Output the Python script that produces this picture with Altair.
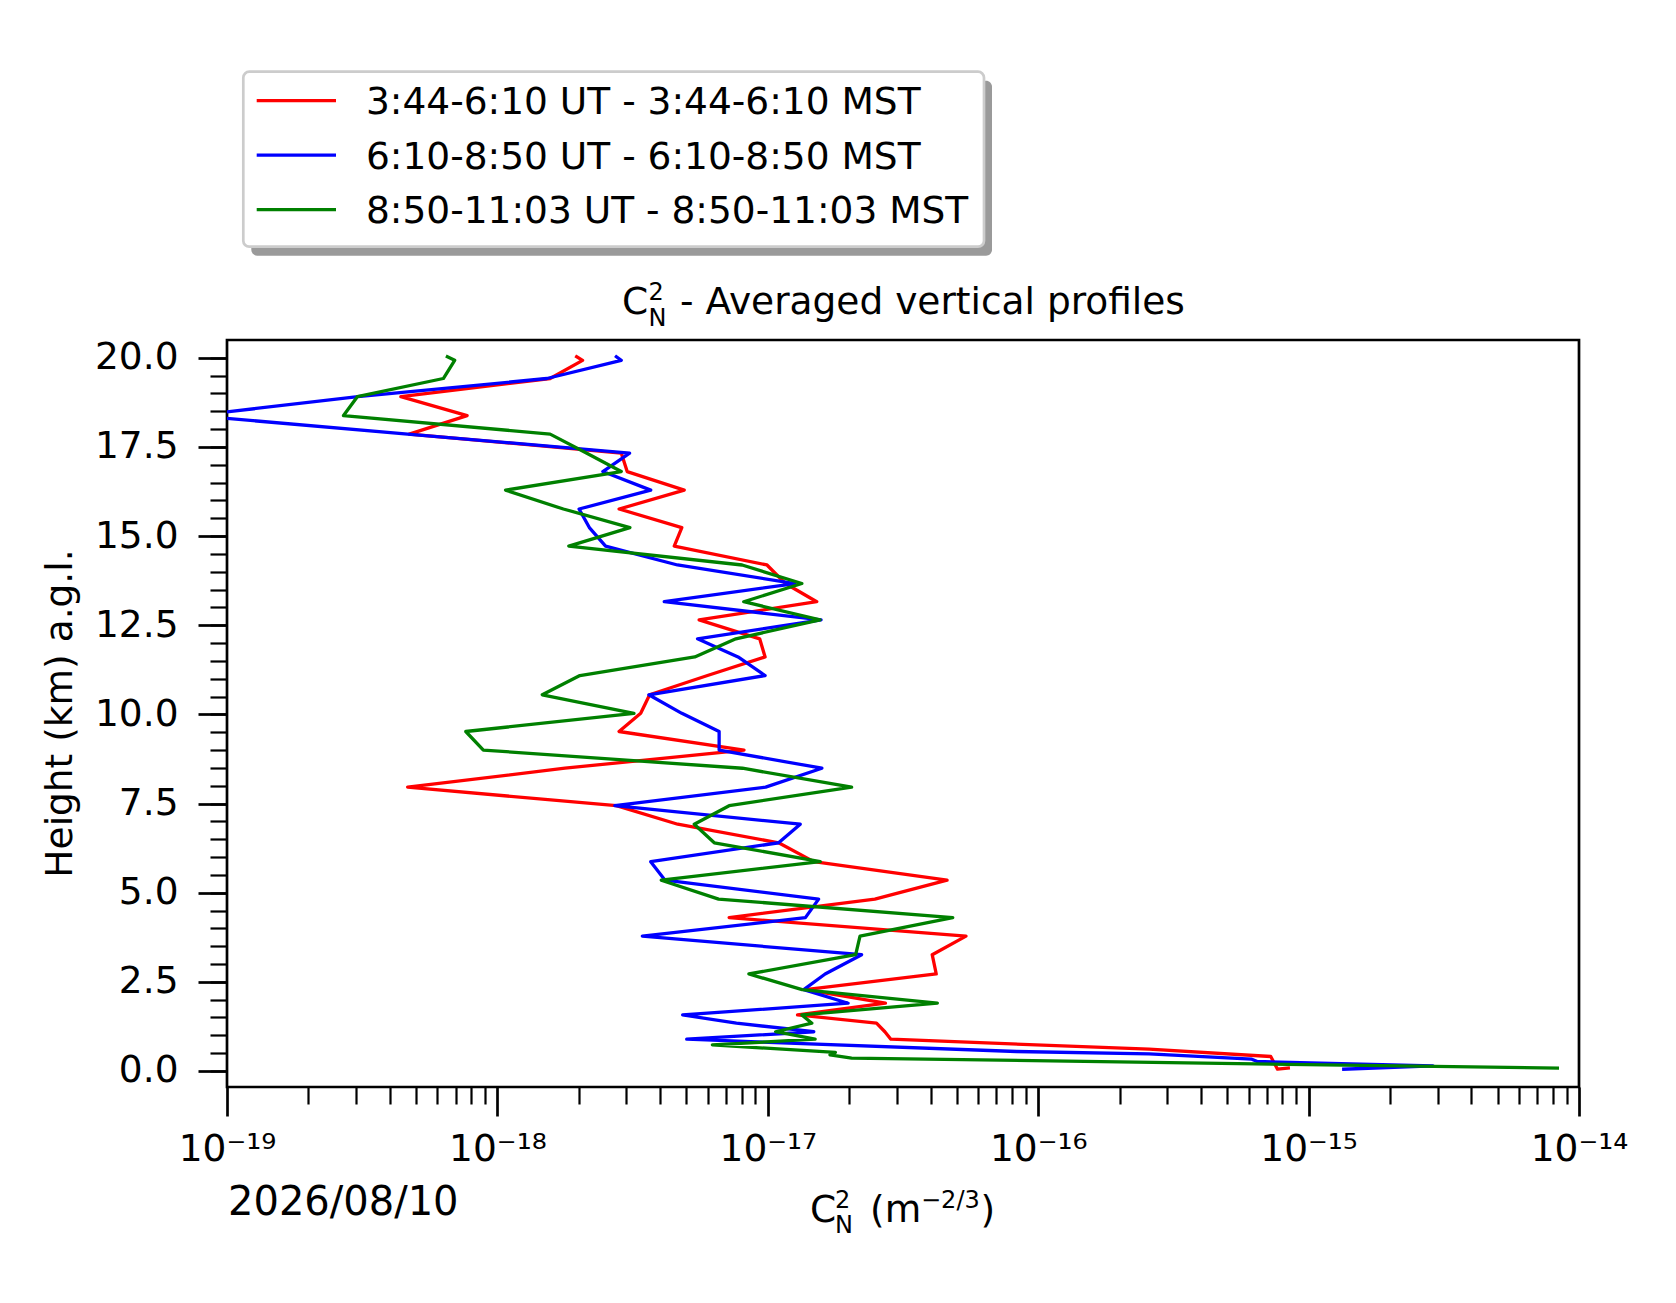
import altair as alt
import pandas as pd

# ---------------- data ----------------
series_names = [
    "3:44-6:10 UT - 3:44-6:10 MST",
    "6:10-8:50 UT - 6:10-8:50 MST",
    "8:50-11:03 UT - 8:50-11:03 MST",
]
series_colors = ["#ff0000", "#0000ff", "#008000"]

# heights (km a.g.l.) shared by the three profiles, top to bottom
grid_km = [20.03, 19.93, 19.42, 18.91, 18.38, 17.86, 17.33, 16.81, 16.29, 15.76,
           15.24, 14.72, 14.19, 13.67, 13.16, 12.65, 12.12, 11.61, 11.09, 10.55,
           10.03, 9.52, 9.00, 8.49, 7.96, 7.44, 6.92, 6.40, 5.87, 5.35,
           4.82, 4.30, 3.78, 3.26, 2.72, 2.28, 1.90, 1.57, 1.34, 1.10, 0.89]

# log10 of Cn2 (m^-2/3) at the grid heights
red_log10 = [-17.707, -17.685, -17.805, -18.357, -18.112, -18.326, -17.542, -17.52, -17.309, -17.55,
             -17.318, -17.346, -17.003, -16.935, -16.819, -17.254, -17.03, -17.01, -17.223, -17.437,
             -17.47, -17.55, -17.088, -17.75, -18.332, -17.56, -17.333, -16.96, -16.83, -16.337,
             -16.604, -17.143, -16.267, -16.392, -16.377, -16.861, -16.565, -16.89, -16.598, -16.567, -16.545]
blue_log10 = [-17.56, -17.542, -17.817, -18.516, -19.12, -18.332, -17.511, -17.61, -17.433, -17.698,
              -17.66, -17.60, -17.334, -16.899, -17.383, -16.803, -17.26, -17.11, -17.01, -17.44,
              -17.318, -17.18, -17.18, -16.80, -17.008, -17.566, -16.88, -16.96, -17.433, -17.38,
              -16.812, -16.861, -17.464, -16.653, -16.788, -16.867, -16.703, -17.315, -17.116, -16.83, -17.30]
green_log10 = [-18.185, -18.158, -18.2, -18.518, -18.569, -17.805, -17.671, -17.542, -17.97, -17.756,
               -17.51, -17.736, -17.095, -16.874, -17.089, -16.807, -17.118, -17.27, -17.695, -17.834,
               -17.495, -18.117, -18.052, -17.094, -16.69, -17.143, -17.272, -17.198, -16.806, -17.394,
               -17.182, -16.316, -16.659, -16.675, -17.07, -16.873, -16.373, -16.874, -16.837, -16.971, -16.825]

# near-ground tails (different per profile)
red_tail_km = [0.61, 0.405, 0.05, 0.08]
red_tail_log10 = [-15.59, -15.14, -15.115, -15.075]
blue_tail_km = [0.545, 0.48, 0.33, 0.265, 0.14, 0.05]
blue_tail_log10 = [-16.08, -15.59, -15.21, -15.19, -14.54, -14.87]
green_tail_km = [0.73, 0.52, 0.45, 0.36, 0.08]
green_tail_log10 = [-17.205, -16.75, -16.77, -16.69, -14.08]

x_major = [1e-19, 1e-18, 1e-17, 1e-16, 1e-15, 1e-14]
x_minor = [k * 10.0 ** d for d in range(-19, -14) for k in range(2, 10)]
y_major = [0.0, 2.5, 5.0, 7.5, 10.0, 12.5, 15.0, 17.5, 20.0]
y_minor = [0.5 * k for k in range(0, 41)]

date_text = "2026/08/10"

# ---------------- build table ----------------
profiles = [
    (grid_km + red_tail_km, red_log10 + red_tail_log10),
    (grid_km + blue_tail_km, blue_log10 + blue_tail_log10),
    (grid_km + green_tail_km, green_log10 + green_tail_log10),
]
rows = []
for name, (kms, logs) in zip(series_names, profiles):
    for i, (h, lg) in enumerate(zip(kms, logs)):
        rows.append({"series": name, "h": h, "c": 10.0 ** lg, "i": i})
df = pd.DataFrame(rows)

# ---------------- layout constants ----------------
W, H = 1352, 747
FONT = "DejaVu Sans"
FS = 37.5
SUB = 24

x_scale = alt.Scale(type="log", domain=[1e-19, 1e-14], nice=False)
y_scale = alt.Scale(domain=[-0.45, 20.5], nice=False, zero=False)

label_expr = ("datum.value < 5e-19 ? '10\u207b\u00b9\u2079' : "
              "datum.value < 5e-18 ? '10\u207b\u00b9\u2078' : "
              "datum.value < 5e-17 ? '10\u207b\u00b9\u2077' : "
              "datum.value < 5e-16 ? '10\u207b\u00b9\u2076' : "
              "datum.value < 5e-15 ? '10\u207b\u00b9\u2075' : '10\u207b\u00b9\u2074'")

x_major_axis = alt.Axis(values=x_major, orient="bottom", tickSize=29, tickWidth=2.7,
                        tickColor="black", domain=False, grid=False, labelExpr=label_expr,
                        labelFont=FONT, labelFontSize=FS, labelColor="black",
                        labelPadding=44, labelBaseline="alphabetic", labelAlign="center",
                        labelFlush=False, labelOverlap=False)
y_major_axis = alt.Axis(values=y_major, orient="left", tickSize=29, tickWidth=2.7,
                        tickColor="black", domain=False, grid=False, format=".1f",
                        labelFont=FONT, labelFontSize=FS, labelColor="black",
                        labelPadding=20, labelBaseline="middle", labelFlush=False,
                        labelOverlap=False)
x_minor_axis = alt.Axis(values=x_minor, orient="bottom", tickSize=17, tickWidth=2.2,
                        tickColor="black", domain=False, grid=False, labels=False)
y_minor_axis = alt.Axis(values=y_minor, orient="left", tickSize=17, tickWidth=2.2,
                        tickColor="black", domain=False, grid=False, labels=False)

base = alt.Chart(df)

minor_layer = base.mark_line(opacity=0).encode(
    x=alt.X("c:Q", scale=x_scale, axis=x_minor_axis, title=None),
    y=alt.Y("h:Q", scale=y_scale, axis=y_minor_axis, title=None),
    detail="series:N",
    order="i:Q",
)

line_layers = []
for k, (name, color) in enumerate(zip(series_names, series_colors)):
    if k == 0:
        xe = alt.X("c:Q", scale=x_scale, axis=x_major_axis, title=None)
        ye = alt.Y("h:Q", scale=y_scale, axis=y_major_axis, title=None)
    else:
        xe = alt.X("c:Q", scale=x_scale, axis=None)
        ye = alt.Y("h:Q", scale=y_scale, axis=None)
    line_layers.append(
        base.transform_filter(alt.datum.series == name)
        .mark_line(color=color, strokeWidth=3.3, clip=True, strokeJoin="round", strokeCap="square")
        .encode(x=xe, y=ye, order="i:Q")
    )


def txt(s, x, y, size=FS, align="left", angle=0):
    d = pd.DataFrame({"t": [s]})
    props = dict(font=FONT, fontSize=size, align=align, baseline="alphabetic", color="black")
    if angle:
        props["angle"] = angle
    return alt.Chart(d).mark_text(**props).encode(
        x=alt.value(x), y=alt.value(y), text="t:N")


# title: C^2_N - Averaged vertical profiles
title_layers = [
    txt("C", 395, -26),
    txt("2", 421.5, -40.5, SUB),
    txt("N", 421.5, -14.5, SUB),
    txt("- Averaged vertical profiles", 453, -26),
]
# x label: C^2_N (m^-2/3)
xlabel_layers = [
    txt("C", 583, 881.7),
    txt("2", 608, 867.8, SUB),
    txt("N", 608, 893, SUB),
    txt("(m", 643, 881.7),
    txt("\u22122/3", 694, 868, SUB),
    txt(")", 753.5, 881.7),
]
ylabel_layer = txt("Height (km) a.g.l.", -155, 373.5, align="center", angle=270)
date_layer = txt(date_text, 1, 875, 40)

# legend (frame with shadow)
one = pd.DataFrame({"k": [0]})
shadow = alt.Chart(one).mark_rect(fill="#9a9a9a", cornerRadius=6).encode(
    x=alt.value(24.3), x2=alt.value(765), y=alt.value(-259.3), y2=alt.value(-84.3))
frame = alt.Chart(one).mark_rect(fill="white", stroke="#cccccc", strokeWidth=2.7,
                                 cornerRadius=6).encode(
    x=alt.value(16.3), x2=alt.value(757), y=alt.value(-268.3), y2=alt.value(-93.3))
legend_layers = [shadow, frame]
for k, (name, color) in enumerate(zip(series_names, series_colors)):
    yy = -239.3 + 54.5 * k
    legend_layers.append(
        alt.Chart(one).mark_rule(color=color, strokeWidth=3.3).encode(
            x=alt.value(29.7), x2=alt.value(109), y=alt.value(yy)))
    legend_layers.append(txt(name, 139, yy + 13.6))

chart = alt.layer(
    minor_layer, *line_layers, *title_layers, *xlabel_layers, ylabel_layer, date_layer,
    *legend_layers
).resolve_axis(x="independent", y="independent").properties(
    width=W, height=H,
    autosize=alt.AutoSizeParams(type="none"),
    padding={"left": 219, "top": 332, "right": 89, "bottom": 208},
    background="white",
).configure(
    font=FONT,
    view=alt.ViewConfig(stroke="black", strokeWidth=2.7),
)

chart.save("out.html", embed_options={"renderer": "svg", "actions": False})
